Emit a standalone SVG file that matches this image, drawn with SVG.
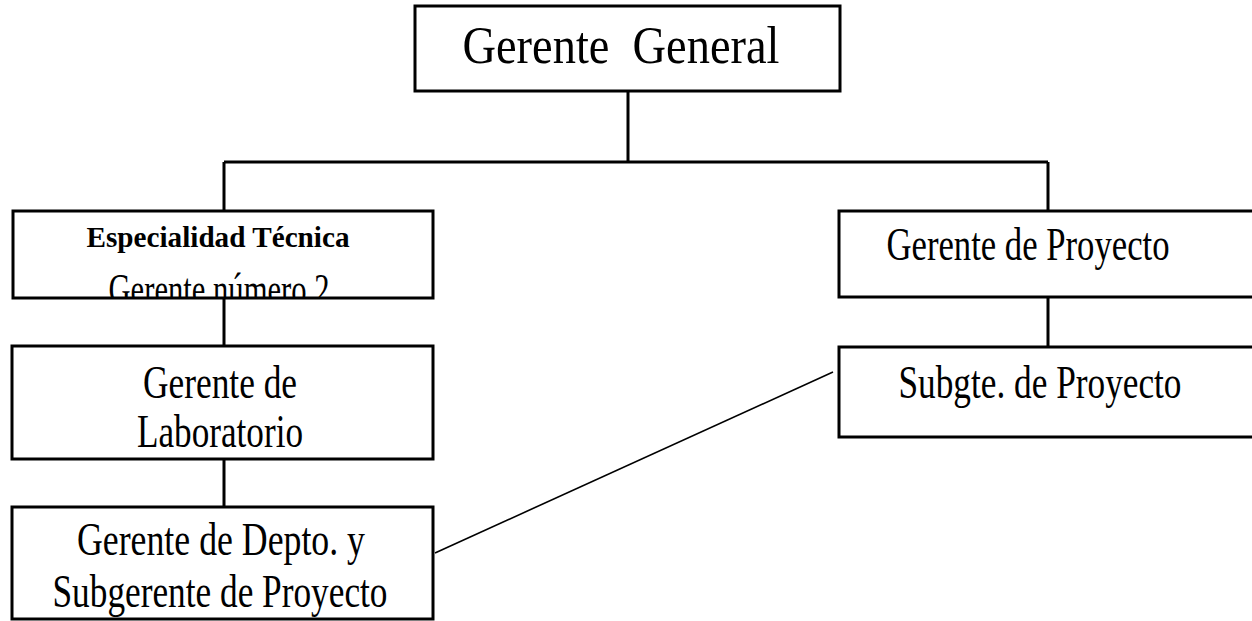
<svg xmlns="http://www.w3.org/2000/svg" width="1252" height="621" viewBox="0 0 1252 621">
<style>
.box{fill:#fff;stroke:#000;stroke-width:3}
.ln{fill:none;stroke:#000;stroke-width:3}
.dg{fill:none;stroke:#000;stroke-width:1.6}
text{font-family:"Liberation Serif","Times New Roman",serif;fill:#000;text-anchor:middle}
</style>
<defs>
<clipPath id="clipEsp"><rect x="14" y="212" width="418" height="85"/></clipPath>
</defs>
<rect width="1252" height="621" fill="#fff"/>
<g id="connectors">
<path class="ln" d="M628 91 V162 M224 162 H1048 M224 162 V211 M1048 162 V211 M224 298 V346 M224 459 V507 M1048 297 V347"/>
<path class="dg" d="M435 553 L833 372"/>
</g>
<g id="gerente-general">
<rect class="box" x="415" y="6" width="425" height="85"/>
<text x="621" y="63" font-size="52" textLength="317" lengthAdjust="spacingAndGlyphs" xml:space="preserve">Gerente  General</text>
</g>
<g id="especialidad-tecnica">
<rect class="box" x="13" y="211" width="420" height="87"/>
<text x="218" y="247" font-size="29" font-weight="bold" textLength="263" lengthAdjust="spacingAndGlyphs">Especialidad Técnica</text>
<text x="219" y="304" font-size="44" textLength="221" lengthAdjust="spacingAndGlyphs" clip-path="url(#clipEsp)">Gerente número 2</text>
</g>
<g id="gerente-proyecto">
<rect class="box" x="839" y="211" width="430" height="86"/>
<text x="1028" y="260" font-size="46" textLength="283" lengthAdjust="spacingAndGlyphs">Gerente de Proyecto</text>
</g>
<g id="subgte-proyecto">
<rect class="box" x="839" y="347" width="430" height="90"/>
<text x="1040" y="398" font-size="46" textLength="283" lengthAdjust="spacingAndGlyphs">Subgte. de Proyecto</text>
</g>
<g id="gerente-laboratorio">
<rect class="box" x="12" y="346" width="421" height="113"/>
<text x="220" y="398" font-size="46" textLength="154" lengthAdjust="spacingAndGlyphs">Gerente de</text>
<text x="220" y="447" font-size="46" textLength="166" lengthAdjust="spacingAndGlyphs">Laboratorio</text>
</g>
<g id="gerente-depto">
<rect class="box" x="12" y="507" width="421" height="112"/>
<text x="221" y="555" font-size="46" textLength="288" lengthAdjust="spacingAndGlyphs">Gerente de Depto. y</text>
<text x="220" y="607" font-size="46" textLength="335" lengthAdjust="spacingAndGlyphs">Subgerente de Proyecto</text>
</g>
</svg>
